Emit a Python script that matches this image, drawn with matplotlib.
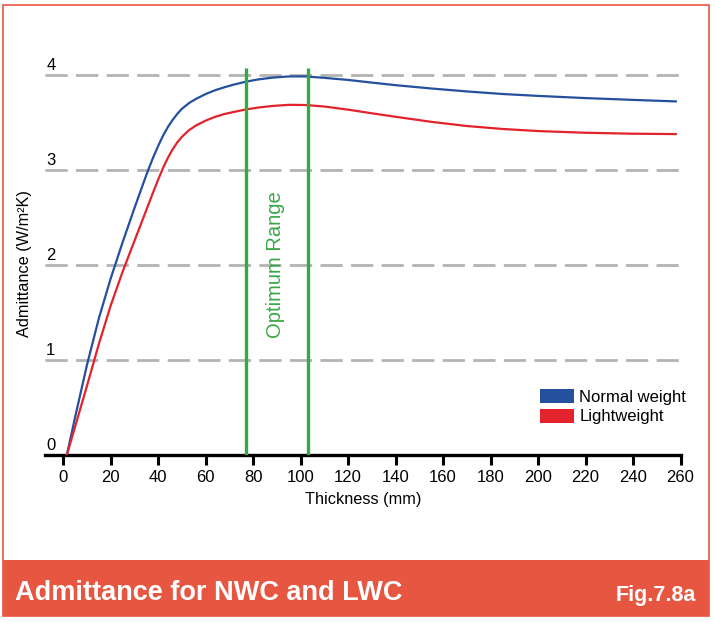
import matplotlib
matplotlib.use("Agg")
import matplotlib.pyplot as plt
from matplotlib.patches import Rectangle, Patch

plt.rcParams['font.family'] = ['Liberation Sans', 'DejaVu Sans']
plt.rcParams['lines.scale_dashes'] = False

# values (thickness in mm, admittance in W/m2K)
thickness = [1.5, 5, 10, 15, 20, 25, 30, 32, 34, 36, 38, 40, 42, 44, 46, 48, 50,
             53, 56, 60, 64, 68, 72, 77, 82, 88, 95, 102, 110, 120, 130, 140,
             155, 170, 185, 200, 220, 240, 258]
normal_weight = [0, 0.40, 0.95, 1.44, 1.86, 2.24, 2.60, 2.74, 2.88, 3.015, 3.14,
                 3.255, 3.36, 3.45, 3.525, 3.59, 3.645, 3.705, 3.75, 3.80, 3.84,
                 3.872, 3.90, 3.93, 3.953, 3.972, 3.985, 3.985, 3.97, 3.948, 3.92,
                 3.893, 3.858, 3.827, 3.80, 3.78, 3.757, 3.738, 3.722]
lightweight = [0, 0.30, 0.73, 1.17, 1.575, 1.93, 2.255, 2.385, 2.515, 2.645,
               2.775, 2.90, 3.02, 3.125, 3.215, 3.29, 3.35, 3.42, 3.47, 3.52,
               3.56, 3.59, 3.612, 3.638, 3.657, 3.674, 3.686, 3.684, 3.668,
               3.635, 3.597, 3.56, 3.507, 3.463, 3.432, 3.41, 3.392, 3.382, 3.378]
optimum = [77, 103]
x_ticks = list(range(0, 261, 20))
y_levels = [0, 1, 2, 3, 4]

blue = '#24509e'
red = '#e3232b'
green = '#3aa746'
banner = '#e75640'

W, H = 715, 622
fig = plt.figure(figsize=(W / 100, H / 100), dpi=100)

def fx(px):
    return px / W

def fy(py):
    return 1 - py / H

# outer frame and footer band
fig.add_artist(Rectangle((fx(3), fy(616)), fx(708.5) - fx(3), fy(4.5) - fy(616),
                         transform=fig.transFigure, fill=False, ec=banner, lw=1.2))
fig.add_artist(Rectangle((fx(2.5), fy(616)), fx(709) - fx(2.5), fy(560) - fy(616),
                         transform=fig.transFigure, fc=banner, ec='none'))
fig.text(fx(15), fy(600.5), 'Admittance for NWC and LWC', color='white',
         fontsize=19.5, fontweight='bold', va='baseline', ha='left')
fig.text(fx(696), fy(600.5), 'Fig.7.8a', color='white',
         fontsize=15.5, fontweight='bold', va='baseline', ha='right')

ax = fig.add_axes([fx(45), fy(455), fx(681) - fx(45), fy(46.5) - fy(455)])
ax.set_xlim(-7.7, 260.2)
ax.set_ylim(0, 4.3)

for v in y_levels[1:]:
    ax.hlines(v, -7.7, 260.8, colors='#b3b3b3', lw=2, linestyles=(0, (16, 6)),
              clip_on=False, zorder=1)
for v in y_levels:
    ax.text(-7.2, v + 0.05, str(v), fontsize=12, ha='left', va='baseline')

ax.plot(thickness, normal_weight, color=blue, lw=1.6, zorder=3)
ax.plot(thickness, lightweight, color=red, lw=1.6, zorder=3)

for v in optimum:
    ax.vlines(v, 0, 4.07, colors=green, lw=2.4, zorder=4)
ax.text(89.6, 2.0, 'Optimum Range', color=green, fontsize=14.5, rotation=90,
        ha='center', va='center')

for s in ['left', 'right', 'top']:
    ax.spines[s].set_visible(False)
ax.spines['bottom'].set_linewidth(2.4)
ax.set_yticks([])
ax.set_xticks(x_ticks)
ax.tick_params(axis='x', length=7.2, width=2.2, pad=3.5, labelsize=12)
ax.set_xlabel('Thickness (mm)', fontsize=11.7, labelpad=5)

fig.text(fx(25), fy(264), 'Admittance (W/m²K)', rotation=90, fontsize=11.7,
         ha='center', va='center')

handles = [Patch(fc=blue, ec='none'), Patch(fc=red, ec='none')]
ax.legend(handles, ['Normal weight', 'Lightweight'], loc='upper left',
          bbox_to_anchor=(fx(540), fy(389)), bbox_transform=fig.transFigure,
          frameon=False, borderpad=0, borderaxespad=0, handlelength=2.05,
          handleheight=0.9, handletextpad=0.3, labelspacing=0.25, fontsize=12)

fig.savefig('out.png', dpi=100)
